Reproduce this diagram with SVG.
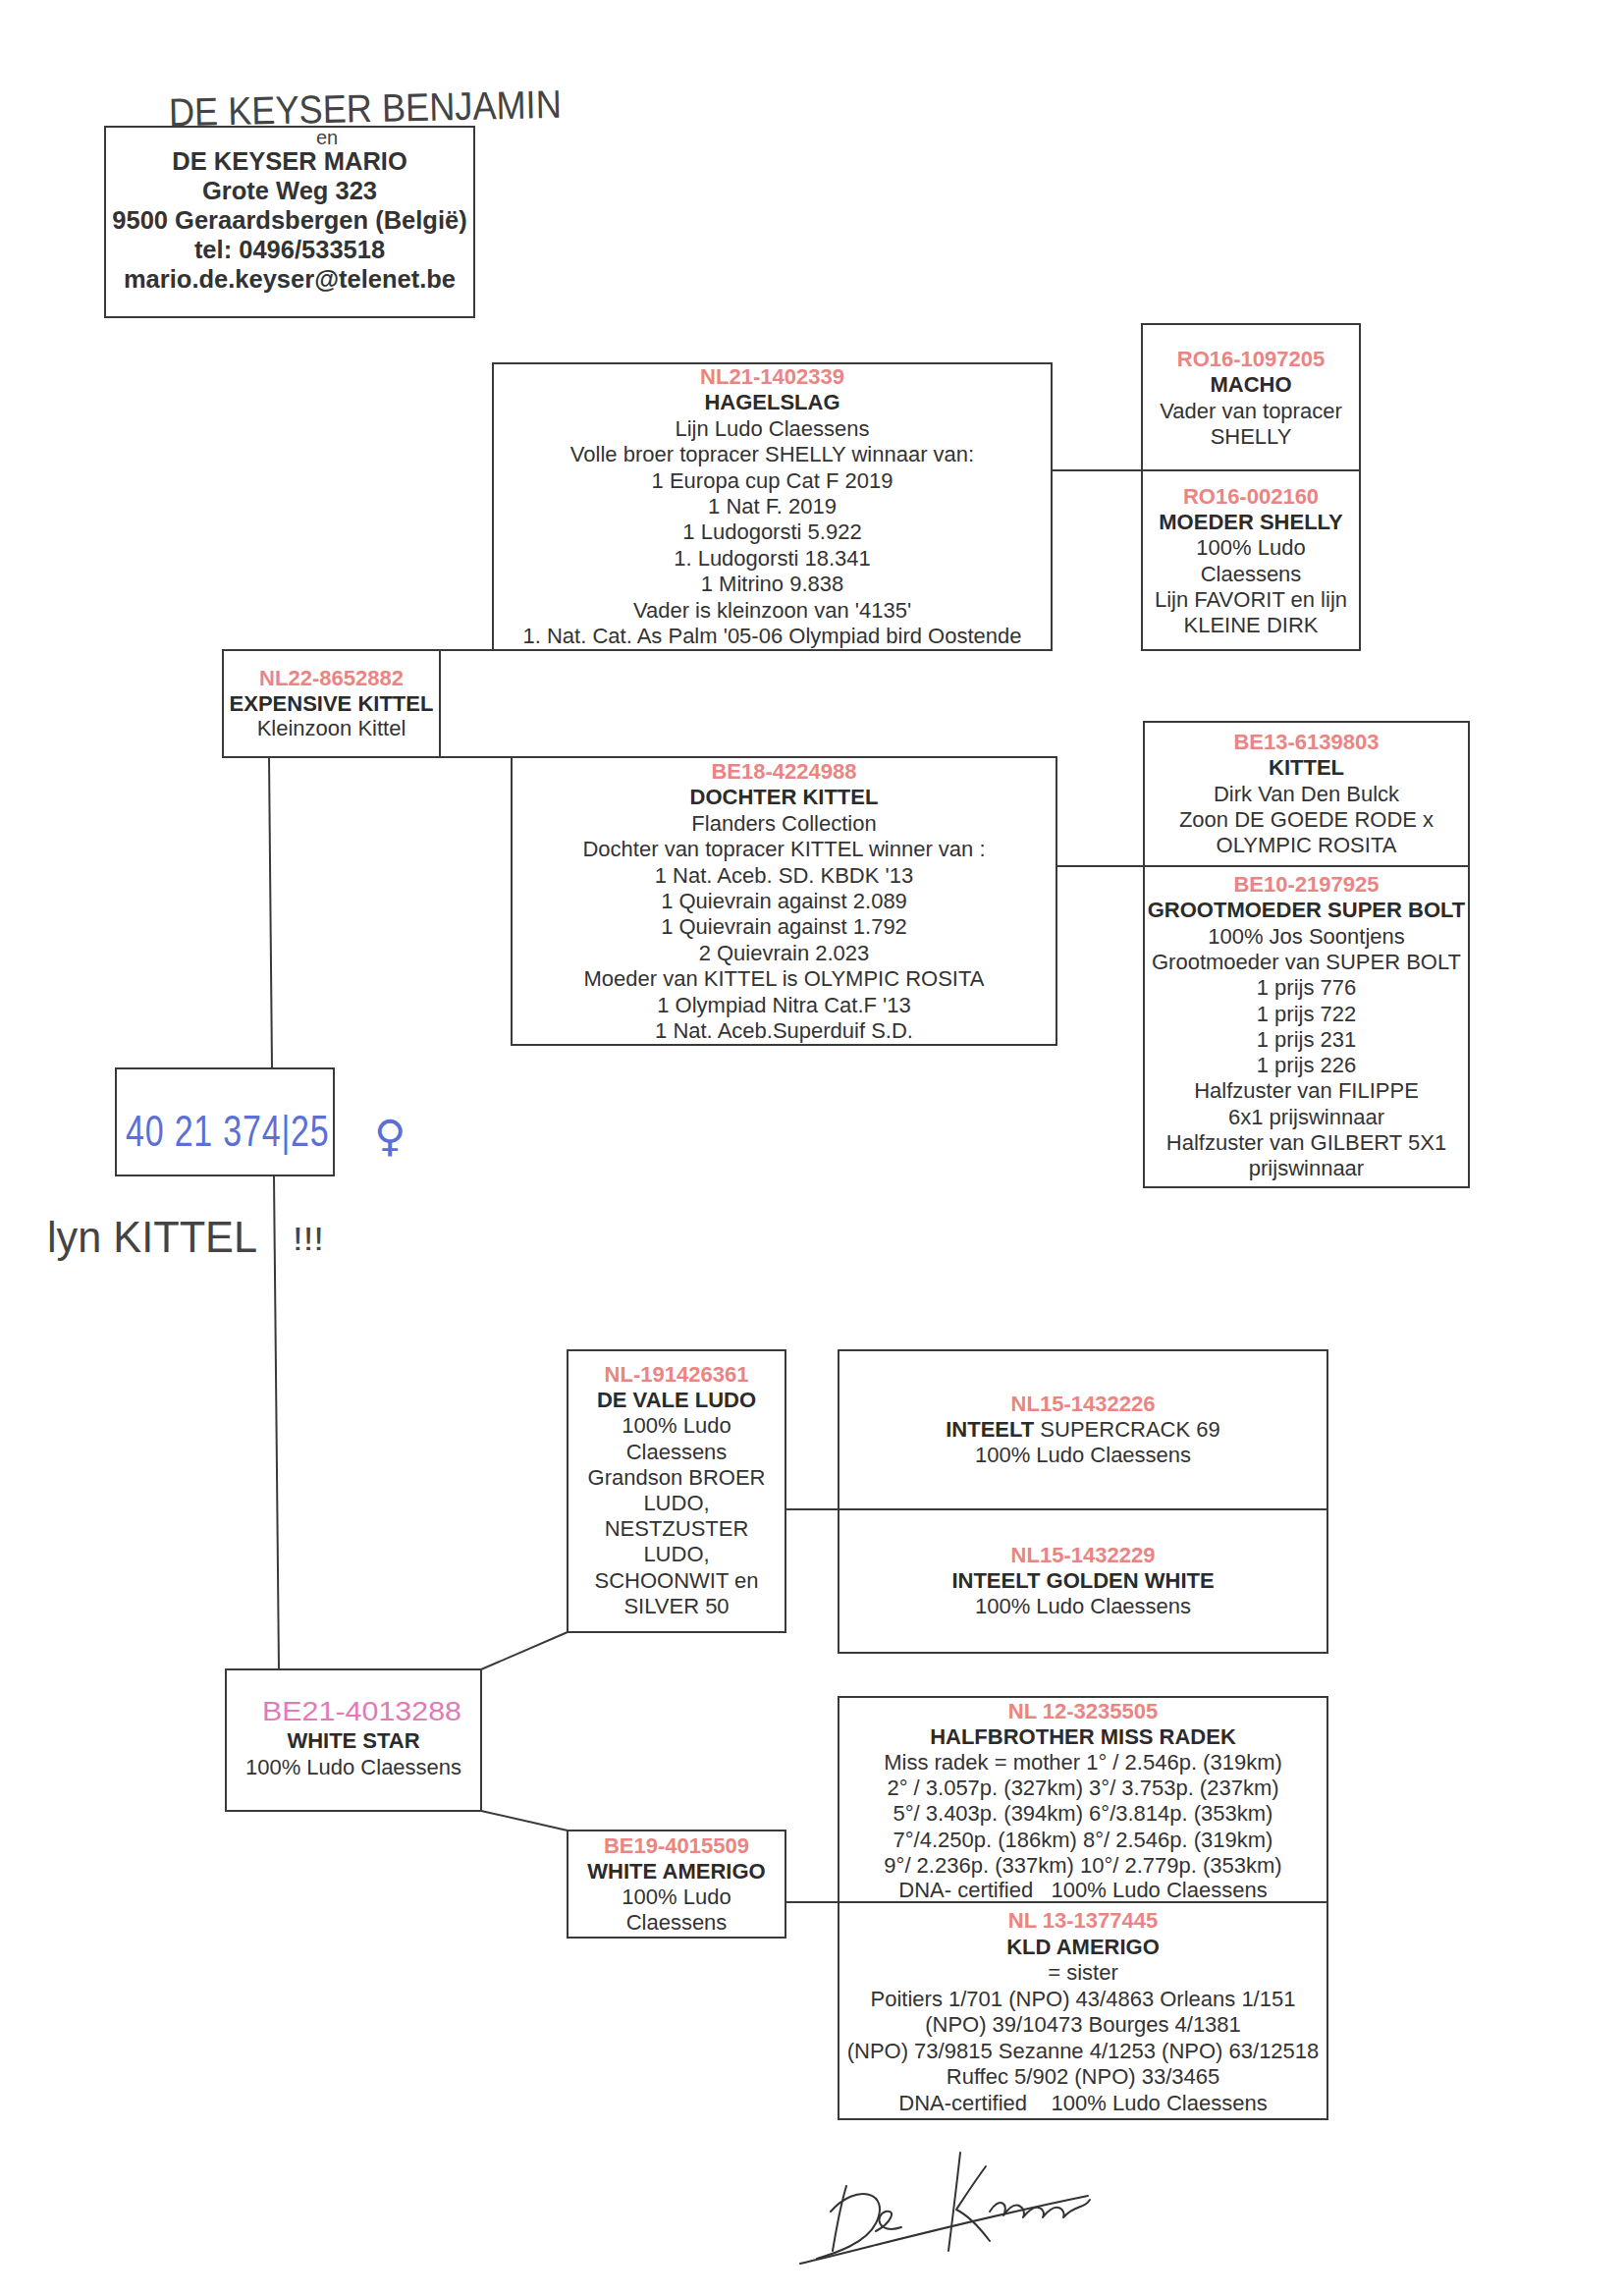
<svg xmlns="http://www.w3.org/2000/svg" width="1654" height="2337" viewBox="0 0 1654 2337">
<style>
.box{fill:#fff;stroke:#3a3a3a;stroke-width:2}
.id{font-family:"Liberation Sans",Arial,sans-serif;font-weight:bold;font-size:22px;fill:#ea8583;text-anchor:middle}
.nm{font-family:"Liberation Sans",Arial,sans-serif;font-weight:bold;font-size:22px;fill:#2b2b2b;text-anchor:middle}
.tx{font-family:"Liberation Sans",Arial,sans-serif;font-size:22px;fill:#333;text-anchor:middle}
.hd{font-family:"Liberation Sans",Arial,sans-serif;font-weight:bold;font-size:25.5px;fill:#333;text-anchor:middle}
.hw{font-family:"Liberation Sans",Arial,sans-serif;fill:#444}
.conn line{stroke:#3a3a3a;stroke-width:2}
.sig{fill:none;stroke:#333;stroke-width:2;stroke-linecap:round;stroke-linejoin:round}
</style>
<rect width="1654" height="2337" fill="#fff"/>

<g id="connectors" class="conn">
<line x1="1071" y1="479" x2="1163" y2="479"/>
<line x1="448" y1="662" x2="502" y2="662"/>
<line x1="448" y1="771" x2="521" y2="771"/>
<line x1="1076" y1="882" x2="1165" y2="882"/>
<line x1="274" y1="771" x2="277" y2="1088"/>
<line x1="279" y1="1197" x2="284" y2="1700"/>
<line x1="490" y1="1700" x2="578" y2="1662"/>
<line x1="490" y1="1844" x2="578" y2="1864"/>
<line x1="800" y1="1537" x2="854" y2="1537"/>
<line x1="800" y1="1937" x2="854" y2="1937"/>
</g>

<g id="owner">
<text class="hw" x="172" y="124" font-size="40" textLength="400" lengthAdjust="spacingAndGlyphs" transform="rotate(-1.2 372 120)">DE KEYSER BENJAMIN</text>
<rect class="box" x="107" y="129" width="376" height="194"/>
<text class="hw" x="333" y="147" font-size="20" text-anchor="middle">en</text>
<text class="hd" x="295" y="173">DE KEYSER MARIO</text>
<text class="hd" x="295" y="203">Grote Weg 323</text>
<text class="hd" x="295" y="233">9500 Geraardsbergen (België)</text>
<text class="hd" x="295" y="263">tel: 0496/533518</text>
<text class="hd" x="295" y="293">mario.de.keyser@telenet.be</text>
</g>

<g id="hagelslag">
<rect class="box" x="502" y="370" width="569" height="292"/>
<text class="id" x="786.5" y="391">NL21-1402339</text>
<text class="nm" x="786.5" y="417.4">HAGELSLAG</text>
<text class="tx" x="786.5" y="443.8">Lijn Ludo Claessens</text>
<text class="tx" x="786.5" y="470.2">Volle broer topracer SHELLY winnaar van:</text>
<text class="tx" x="786.5" y="496.6">1 Europa cup Cat F 2019</text>
<text class="tx" x="786.5" y="523">1 Nat F. 2019</text>
<text class="tx" x="786.5" y="549.4">1 Ludogorsti 5.922</text>
<text class="tx" x="786.5" y="575.8">1. Ludogorsti 18.341</text>
<text class="tx" x="786.5" y="602.2">1 Mitrino 9.838</text>
<text class="tx" x="786.5" y="628.6">Vader is kleinzoon van '4135'</text>
<text class="tx" x="786.5" y="655">1. Nat. Cat. As Palm '05-06 Olympiad bird Oostende</text>
</g>

<g id="macho">
<rect class="box" x="1163" y="330" width="222" height="149"/>
<text class="id" x="1274" y="373">RO16-1097205</text>
<text class="nm" x="1274" y="399">MACHO</text>
<text class="tx" x="1274" y="425.5">Vader van topracer</text>
<text class="tx" x="1274" y="452">SHELLY</text>
</g>

<g id="moeder-shelly">
<rect class="box" x="1163" y="479" width="222" height="183"/>
<text class="id" x="1274" y="513">RO16-002160</text>
<text class="nm" x="1274" y="539.2">MOEDER SHELLY</text>
<text class="tx" x="1274" y="565.4">100% Ludo</text>
<text class="tx" x="1274" y="591.6">Claessens</text>
<text class="tx" x="1274" y="617.8">Lijn FAVORIT en lijn</text>
<text class="tx" x="1274" y="644">KLEINE DIRK</text>
</g>

<g id="expensive-kittel">
<rect class="box" x="227" y="662" width="221" height="109"/>
<text class="id" x="337.5" y="698">NL22-8652882</text>
<text class="nm" x="337.5" y="723.5">EXPENSIVE KITTEL</text>
<text class="tx" x="337.5" y="749">Kleinzoon Kittel</text>
</g>

<g id="dochter-kittel">
<rect class="box" x="521" y="771" width="555" height="293"/>
<text class="id" x="798.5" y="793">BE18-4224988</text>
<text class="nm" x="798.5" y="819.4">DOCHTER KITTEL</text>
<text class="tx" x="798.5" y="845.8">Flanders Collection</text>
<text class="tx" x="798.5" y="872.2">Dochter van topracer KITTEL winner van :</text>
<text class="tx" x="798.5" y="898.6">1 Nat. Aceb. SD. KBDK '13</text>
<text class="tx" x="798.5" y="925">1 Quievrain against 2.089</text>
<text class="tx" x="798.5" y="951.4">1 Quievrain against 1.792</text>
<text class="tx" x="798.5" y="977.8">2 Quievrain 2.023</text>
<text class="tx" x="798.5" y="1004.2">Moeder van KITTEL is OLYMPIC ROSITA</text>
<text class="tx" x="798.5" y="1030.6">1 Olympiad Nitra Cat.F '13</text>
<text class="tx" x="798.5" y="1057">1 Nat. Aceb.Superduif S.D.</text>
</g>

<g id="kittel">
<rect class="box" x="1165" y="735" width="331" height="147"/>
<text class="id" x="1330.5" y="763">BE13-6139803</text>
<text class="nm" x="1330.5" y="789.3">KITTEL</text>
<text class="tx" x="1330.5" y="815.6">Dirk Van Den Bulck</text>
<text class="tx" x="1330.5" y="841.9">Zoon DE GOEDE RODE x</text>
<text class="tx" x="1330.5" y="868.2">OLYMPIC ROSITA</text>
</g>

<g id="grootmoeder-super-bolt">
<rect class="box" x="1165" y="882" width="331" height="327"/>
<text class="id" x="1330.5" y="908">BE10-2197925</text>
<text class="nm" x="1330.5" y="934.3">GROOTMOEDER SUPER BOLT</text>
<text class="tx" x="1330.5" y="960.6">100% Jos Soontjens</text>
<text class="tx" x="1330.5" y="986.9">Grootmoeder van SUPER BOLT</text>
<text class="tx" x="1330.5" y="1013.2">1 prijs 776</text>
<text class="tx" x="1330.5" y="1039.5">1 prijs 722</text>
<text class="tx" x="1330.5" y="1065.8">1 prijs 231</text>
<text class="tx" x="1330.5" y="1092.1">1 prijs 226</text>
<text class="tx" x="1330.5" y="1118.4">Halfzuster van FILIPPE</text>
<text class="tx" x="1330.5" y="1144.7">6x1 prijswinnaar</text>
<text class="tx" x="1330.5" y="1171">Halfzuster van GILBERT 5X1</text>
<text class="tx" x="1330.5" y="1197.3">prijswinnaar</text>
</g>

<g id="ring">
<rect class="box" x="118" y="1088" width="222" height="109"/>
<text class="hw" x="128" y="897.7" font-size="34" letter-spacing="0.8" style="fill:#5b6fd6" transform="scale(1 1.3)">40 21 374|25</text>
<text x="397" y="1172" font-family="DejaVu Sans, sans-serif" font-size="44" fill="#5b6fd6" text-anchor="middle">♀</text>
<text class="hw" x="48" y="1275" font-size="44" textLength="214" lengthAdjust="spacingAndGlyphs">lyn KITTEL</text>
<text class="hw" x="298" y="1273" font-size="34" textLength="32" lengthAdjust="spacingAndGlyphs">!!!</text>
</g>

<g id="de-vale-ludo">
<rect class="box" x="578" y="1375" width="222" height="287"/>
<text class="id" x="689" y="1407">NL-191426361</text>
<text class="nm" x="689" y="1433.2">DE VALE LUDO</text>
<text class="tx" x="689" y="1459.4">100% Ludo</text>
<text class="tx" x="689" y="1485.6">Claessens</text>
<text class="tx" x="689" y="1511.8">Grandson BROER</text>
<text class="tx" x="689" y="1538">LUDO,</text>
<text class="tx" x="689" y="1564.2">NESTZUSTER</text>
<text class="tx" x="689" y="1590.4">LUDO,</text>
<text class="tx" x="689" y="1616.6">SCHOONWIT en</text>
<text class="tx" x="689" y="1642.8">SILVER 50</text>
</g>

<g id="supercrack-69">
<rect class="box" x="854" y="1375" width="498" height="162"/>
<text class="id" x="1103" y="1437">NL15-1432226</text>
<text class="tx" x="1103" y="1463"><tspan font-weight="bold" fill="#2b2b2b">INTEELT</tspan> SUPERCRACK 69</text>
<text class="tx" x="1103" y="1489">100% Ludo Claessens</text>
</g>

<g id="golden-white">
<rect class="box" x="854" y="1537" width="498" height="146"/>
<text class="id" x="1103" y="1591">NL15-1432229</text>
<text class="nm" x="1103" y="1617">INTEELT GOLDEN WHITE</text>
<text class="tx" x="1103" y="1643">100% Ludo Claessens</text>
</g>

<g id="white-star">
<rect class="box" x="230" y="1700" width="260" height="144"/>
<text class="hw" x="267" y="1752" font-size="27" style="fill:#e27ab6" textLength="203" lengthAdjust="spacingAndGlyphs">BE21-4013288</text>
<text class="nm" x="360" y="1780">WHITE STAR</text>
<text class="tx" x="360" y="1807">100% Ludo Claessens</text>
</g>

<g id="white-amerigo">
<rect class="box" x="578" y="1864" width="222" height="109"/>
<text class="id" x="689" y="1887">BE19-4015509</text>
<text class="nm" x="689" y="1913">WHITE AMERIGO</text>
<text class="tx" x="689" y="1939">100% Ludo</text>
<text class="tx" x="689" y="1965">Claessens</text>
</g>

<g id="halfbrother-miss-radek">
<rect class="box" x="854" y="1728" width="498" height="209"/>
<text class="id" x="1103" y="1750">NL 12-3235505</text>
<text class="nm" x="1103" y="1776.1">HALFBROTHER MISS RADEK</text>
<text class="tx" x="1103" y="1802.2">Miss radek = mother 1° / 2.546p. (319km)</text>
<text class="tx" x="1103" y="1828.3">2° / 3.057p. (327km) 3°/ 3.753p. (237km)</text>
<text class="tx" x="1103" y="1854.4">5°/ 3.403p. (394km) 6°/3.814p. (353km)</text>
<text class="tx" x="1103" y="1880.5">7°/4.250p. (186km) 8°/ 2.546p. (319km)</text>
<text class="tx" x="1103" y="1906.6">9°/ 2.236p. (337km) 10°/ 2.779p. (353km)</text>
<text class="tx" x="1103" y="1932.2" xml:space="preserve">DNA- certified   100% Ludo Claessens</text>
</g>

<g id="kld-amerigo">
<rect class="box" x="854" y="1937" width="498" height="221"/>
<text class="id" x="1103" y="1963">NL 13-1377445</text>
<text class="nm" x="1103" y="1989.5">KLD AMERIGO</text>
<text class="tx" x="1103" y="2016">= sister</text>
<text class="tx" x="1103" y="2042.5">Poitiers 1/701 (NPO) 43/4863 Orleans 1/151</text>
<text class="tx" x="1103" y="2069">(NPO) 39/10473 Bourges 4/1381</text>
<text class="tx" x="1103" y="2095.5">(NPO) 73/9815 Sezanne 4/1253 (NPO) 63/12518</text>
<text class="tx" x="1103" y="2122">Ruffec 5/902 (NPO) 33/3465</text>
<text class="tx" x="1103" y="2148.5" xml:space="preserve">DNA-certified    100% Ludo Claessens</text>
</g>

<g id="signature" class="sig">
<path d="M815,2305 C880,2290 980,2262 1108,2236"/>
<path d="M848,2292 C852,2268 856,2246 862,2226 M846,2252 C872,2222 908,2232 892,2264 C882,2284 852,2294 832,2300"/>
<path d="M892,2272 C907,2264 914,2250 902,2252 C890,2256 894,2276 918,2268"/>
<path d="M978,2192 C974,2228 970,2260 966,2292 M1004,2206 C988,2228 978,2244 974,2250 C986,2256 996,2266 1008,2282"/>
<path d="M1008,2252 C1018,2236 1028,2244 1022,2256 C1036,2236 1046,2250 1042,2258 C1056,2240 1066,2250 1062,2258 C1076,2240 1086,2250 1083,2258 C1096,2244 1104,2250 1110,2240"/>
</g>
</svg>
